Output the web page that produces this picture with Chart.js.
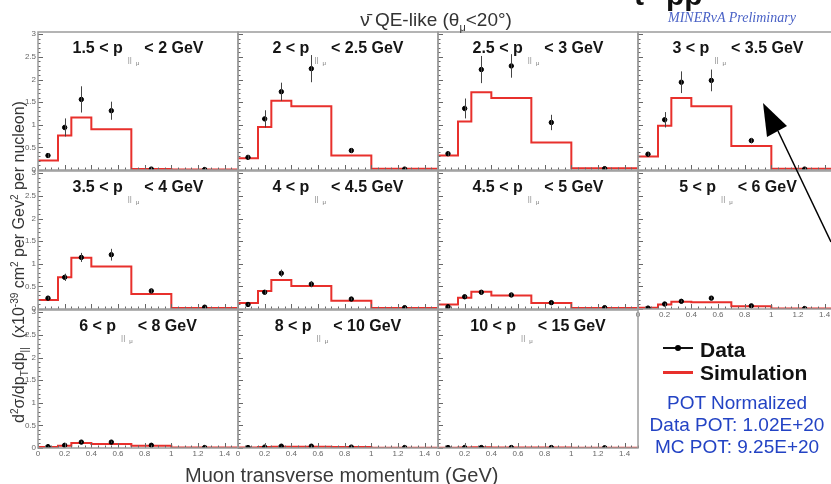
<!DOCTYPE html>
<html><head><meta charset="utf-8">
<script src="https://cdn.jsdelivr.net/npm/chart.js@4.4.0/dist/chart.umd.min.js"></script>
<style>
html,body{margin:0;padding:0;background:#fff;overflow:hidden;width:831px;height:484px;}
body{position:relative;font-family:'Liberation Sans',Arial,sans-serif;color:#333;}
canvas.pn{position:absolute;}
.t{position:absolute;white-space:nowrap;z-index:5;}
.ptitle{position:absolute;width:200px;text-align:center;font-weight:bold;font-size:16px;line-height:16px;color:#151515;white-space:nowrap;z-index:5;}
.ptitle .s{display:inline-block;font-weight:normal;color:#8a8a8a;font-size:8px;line-height:8px;position:relative;top:9px;margin:0 5px 0 5px;}
.ptitle .s i{font-style:normal;font-size:6px;position:relative;top:3px;margin-left:4px;color:#777;}
#ytitle{left:-181px;top:254px;width:400px;text-align:center;font-size:16px;line-height:16px;transform:rotate(-90deg);color:#333;}
#ytitle sup,#ytitle sub{font-size:10px;line-height:0;}
#toptitle{left:336px;top:10px;width:200px;text-align:center;font-size:19px;line-height:19px;}
#toptitle sub{font-size:11px;line-height:0;}
#minerva{left:668px;top:11px;font-family:'Liberation Serif','Times New Roman',serif;font-style:italic;font-size:14px;line-height:14px;color:#4a62c6;}
.slide{top:-20px;font-weight:bold;font-size:30px;line-height:30px;color:#111;}
#xtitle{left:185px;top:465px;font-size:20px;line-height:20px;color:#3a3a3a;}
.lg{font-weight:bold;font-size:21px;line-height:21px;color:#111;}
#pot{left:637px;top:392px;width:200px;text-align:center;font-size:19px;line-height:22px;color:#2343c4;}
.lgline{position:absolute;z-index:5;}
</style></head><body>
<div class="t slide" style="left:634px">t</div>
<div class="t slide" style="left:666px">pp</div>
<div class="t" id="toptitle">&#957;&#772; QE-like (&#952;<sub>&#956;</sub>&lt;20&#176;)</div>
<div class="t" id="minerva">MINERvA Preliminary</div>
<div class="t" id="ytitle">d<sup>2</sup>&#963;/dp<sub>T</sub>dp<sub>||</sub> &nbsp;(x10<sup>-39</sup> cm<sup>2</sup> per Gev<sup>2</sup> per nucleon)</div>
<div class="t" id="xtitle">Muon transverse momentum (GeV)</div>
<div class="lgline" style="left:663px;top:347px;width:30px;height:2px;background:#111"></div>
<div class="lgline" style="left:675px;top:345px;width:6px;height:6px;border-radius:3px;background:#000"></div>
<div class="t lg" style="left:700px;top:339px">Data</div>
<div class="lgline" style="left:663px;top:371px;width:30px;height:3px;background:#e8302c"></div>
<div class="t lg" style="left:700px;top:362px">Simulation</div>
<div class="t" id="pot">POT Normalized<br>Data POT: 1.02E+20<br>MC POT: 9.25E+20</div>
<svg class="t" width="831" height="484" style="left:0;top:0;pointer-events:none">
<line x1="778" y1="131" x2="831" y2="242" stroke="#000" stroke-width="1.5"/>
<polygon points="763,103 767,137 787,126" fill="#000"/>
</svg>
<script>
/* p|| slices, GeV */
var pl_lo=['1.5','2','2.5','3','3.5','4','4.5','5','6','8','10'];
var pl_hi=['2','2.5','3','3.5','4','4.5','5','6','8','10','15'];
/* pT binning, GeV */
var pt_edges=[0,0.15,0.25,0.4,0.7,1,1.5];
var pt_mid=[0.075,0.2,0.325,0.55,0.85,1.25];
/* axis labels */
var x_ticks=[0,0.2,0.4,0.6,0.8,1,1.2,1.4];
var y_ticks=[0,0.5,1,1.5,2,2.5,3];
/* cross sections, x10^-39 cm2/GeV2/nucleon : sim = MC histogram, dat/err = data points */
var sim_1=[0.21,0.76,1.16,0.90,0.02,0.01],dat_1=[0.32,0.94,1.56,1.31,0.02,0.01],err_1=[0.05,0.20,0.29,0.20,0.02,0.01];
var sim_2=[0.26,0.95,1.53,1.41,0.32,0.03],dat_2=[0.28,1.13,1.73,2.24,0.43,0.02],err_2=[0.05,0.19,0.20,0.30,0.05,0.02];
var sim_3=[0.32,1.07,1.72,1.59,0.61,0.04],dat_3=[0.36,1.36,2.22,2.30,1.05,0.03],err_3=[0.05,0.22,0.30,0.26,0.17,0.02];
var sim_4=[0.30,0.98,1.59,1.41,0.53,0.03],dat_4=[0.35,1.11,1.94,1.98,0.65,0.02],err_4=[0.04,0.17,0.24,0.24,0.06,0.02];
var sim_5=[0.20,0.70,1.13,0.94,0.33,0.02],dat_5=[0.24,0.70,1.14,1.20,0.40,0.04],err_5=[0.03,0.08,0.10,0.13,0.05,0.02];
var sim_6=[0.13,0.40,0.64,0.51,0.18,0.02],dat_6=[0.10,0.37,0.79,0.55,0.22,0.03],err_6=[0.02,0.05,0.08,0.07,0.03,0.01];
var sim_7=[0.10,0.25,0.38,0.30,0.13,0.02],dat_7=[0.05,0.27,0.37,0.31,0.14,0.03],err_7=[0.02,0.03,0.04,0.04,0.02,0.01];
var sim_8=[0.03,0.10,0.16,0.15,0.06,0.01],dat_8=[0.02,0.11,0.17,0.24,0.07,0.01],err_8=[0.01,0.02,0.02,0.03,0.02,0.01];
var sim_9=[0.02,0.05,0.11,0.09,0.05,0.01],dat_9=[0.03,0.06,0.13,0.13,0.06,0.01],err_9=[0.01,0.01,0.02,0.02,0.01,0.01];
var sim_10=[0.01,0.02,0.03,0.03,0.02,0.005],dat_10=[0.01,0.02,0.04,0.04,0.02,0.01],err_10=[0.005,0.01,0.01,0.01,0.01,0.005];
var sim_11=[0.005,0.01,0.015,0.01,0.01,0.003],dat_11=[0.01,0.01,0.01,0.01,0.01,0.005],err_11=[0.005,0.005,0.005,0.005,0.005,0.003];
var sims=[sim_1,sim_2,sim_3,sim_4,sim_5,sim_6,sim_7,sim_8,sim_9,sim_10,sim_11];
var dats=[dat_1,dat_2,dat_3,dat_4,dat_5,dat_6,dat_7,dat_8,dat_9,dat_10,dat_11];
var errs=[err_1,err_2,err_3,err_4,err_5,err_6,err_7,err_8,err_9,err_10,err_11];
/* ######################################################################################## */
var grid={x0:38,y0:32,w:200,h:138,dx:200,dy:139,pl:40,pt:12,pr:10,pb:18};
var RED='#e8302c';
var set_ticks=function(vals){return function(s){s.ticks=vals.map(function(v){return {value:v}});};};
var fmt=function(v){return String(Math.round(v*100)/100);};
var tick_font={size:8,family:"'Liberation Sans', Arial, sans-serif"};
/* root style frame with inner ticks */
var frame_plugin={id:'rootframe',afterDraw:function(ch){var a=ch.chartArea,c=ch.ctx,sx=ch.scales.x,sy=ch.scales.y,k,p,l;
	c.save();c.strokeStyle='#666';c.lineWidth=1;c.beginPath();
	for(k=0;k<=30;k++){p=Math.round(sy.getPixelForValue(k/10))+0.5;l=(k%5==0)?5:2.5;c.moveTo(a.left,p);c.lineTo(a.left+l,p);}
	for(k=0;k<=30;k++){p=Math.round(sx.getPixelForValue(k/20))+0.5;l=(k%4==0)?5:2.5;c.moveTo(p,a.bottom);c.lineTo(p,a.bottom-l);}
	c.stroke();
	c.strokeStyle='#9c9c9c';c.lineWidth=1.5;c.strokeRect(a.left,a.top,a.right-a.left,a.bottom-a.top);
	c.restore();}};
/* vertical error bars on the data points */
var errbar_plugin={id:'errbars',afterDatasetsDraw:function(ch){var c=ch.ctx,sy=ch.scales.y;
	ch.data.datasets.forEach(function(ds,di){if(!ds.errs){return}var m=ch.getDatasetMeta(di);
		c.save();c.strokeStyle='#444';c.lineWidth=1;c.beginPath();
		m.data.forEach(function(pt,k){var v=ds.data[k].y,e=ds.errs[k],x=Math.round(pt.x)+0.5;
			c.moveTo(x,sy.getPixelForValue(v+e));c.lineTo(x,sy.getPixelForValue(Math.max(v-e,0)));});
		c.stroke();c.restore();});}};
/* ######################################################################################## */
var make_panel=function(i){var col=i%4,row=Math.floor(i/4);
	var L=grid.x0+grid.dx*col,T=grid.y0+grid.dy*row;
	var cv=document.createElement('canvas');cv.className='pn';
	cv.width=grid.w+grid.pl+grid.pr;cv.height=grid.h+grid.pt+grid.pb;
	cv.style.left=(L-grid.pl)+'px';cv.style.top=(T-grid.pt)+'px';document.body.appendChild(cv);
	var tt=document.createElement('div');tt.className='ptitle';tt.style.left=L+'px';tt.style.top=(T+8)+'px';
	tt.innerHTML=pl_lo[i]+' &lt; p<span class="s">||<i>&#956;</i></span>&lt; '+pl_hi[i]+' GeV';document.body.appendChild(tt);
	var sim=sims[i],dat=dats[i];
	var show_x=(row==2)||(row==1&&col==3),show_y=(col==0);
	return new Chart(cv.getContext('2d'),{
		data:{datasets:[
			{type:'line',label:'Simulation',data:pt_edges.map(function(e,k){return {x:e,y:sim[Math.min(k,sim.length-1)]}}),
				stepped:true,borderColor:RED,borderWidth:2,pointRadius:0,fill:false,order:2},
			{type:'scatter',label:'Data',data:pt_mid.map(function(x,k){return {x:x,y:dat[k]}}),errs:errs[i],
				pointRadius:2.2,pointBackgroundColor:'#000',pointBorderColor:'#000',order:1}
		]},
		options:{responsive:false,animation:false,devicePixelRatio:1,
			layout:{padding:{left:0,top:grid.pt,right:grid.pr,bottom:0}},
			plugins:{legend:{display:false},tooltip:{enabled:false},title:{display:false}},
			scales:{
				x:{type:'linear',min:0,max:1.5,grid:{display:false,drawTicks:false},border:{display:false},
					ticks:{display:show_x,autoSkip:false,maxRotation:0,padding:1,color:'#666',font:tick_font,callback:fmt},
					afterBuildTicks:set_ticks(x_ticks),afterFit:function(s){s.height=grid.pb;s.paddingLeft=0;s.paddingRight=0;}},
				y:{type:'linear',min:0,max:3.05,grid:{display:false,drawTicks:false},border:{display:false},
					ticks:{display:show_y,autoSkip:false,padding:2,color:'#666',font:tick_font,callback:fmt},
					afterBuildTicks:set_ticks(y_ticks),afterFit:function(s){s.width=grid.pl;s.paddingTop=0;s.paddingBottom=0;}}
			}},
		plugins:[frame_plugin,errbar_plugin]
	});
};
for(var i=0;i<sims.length;i++){make_panel(i);}
</script>
</body></html>
